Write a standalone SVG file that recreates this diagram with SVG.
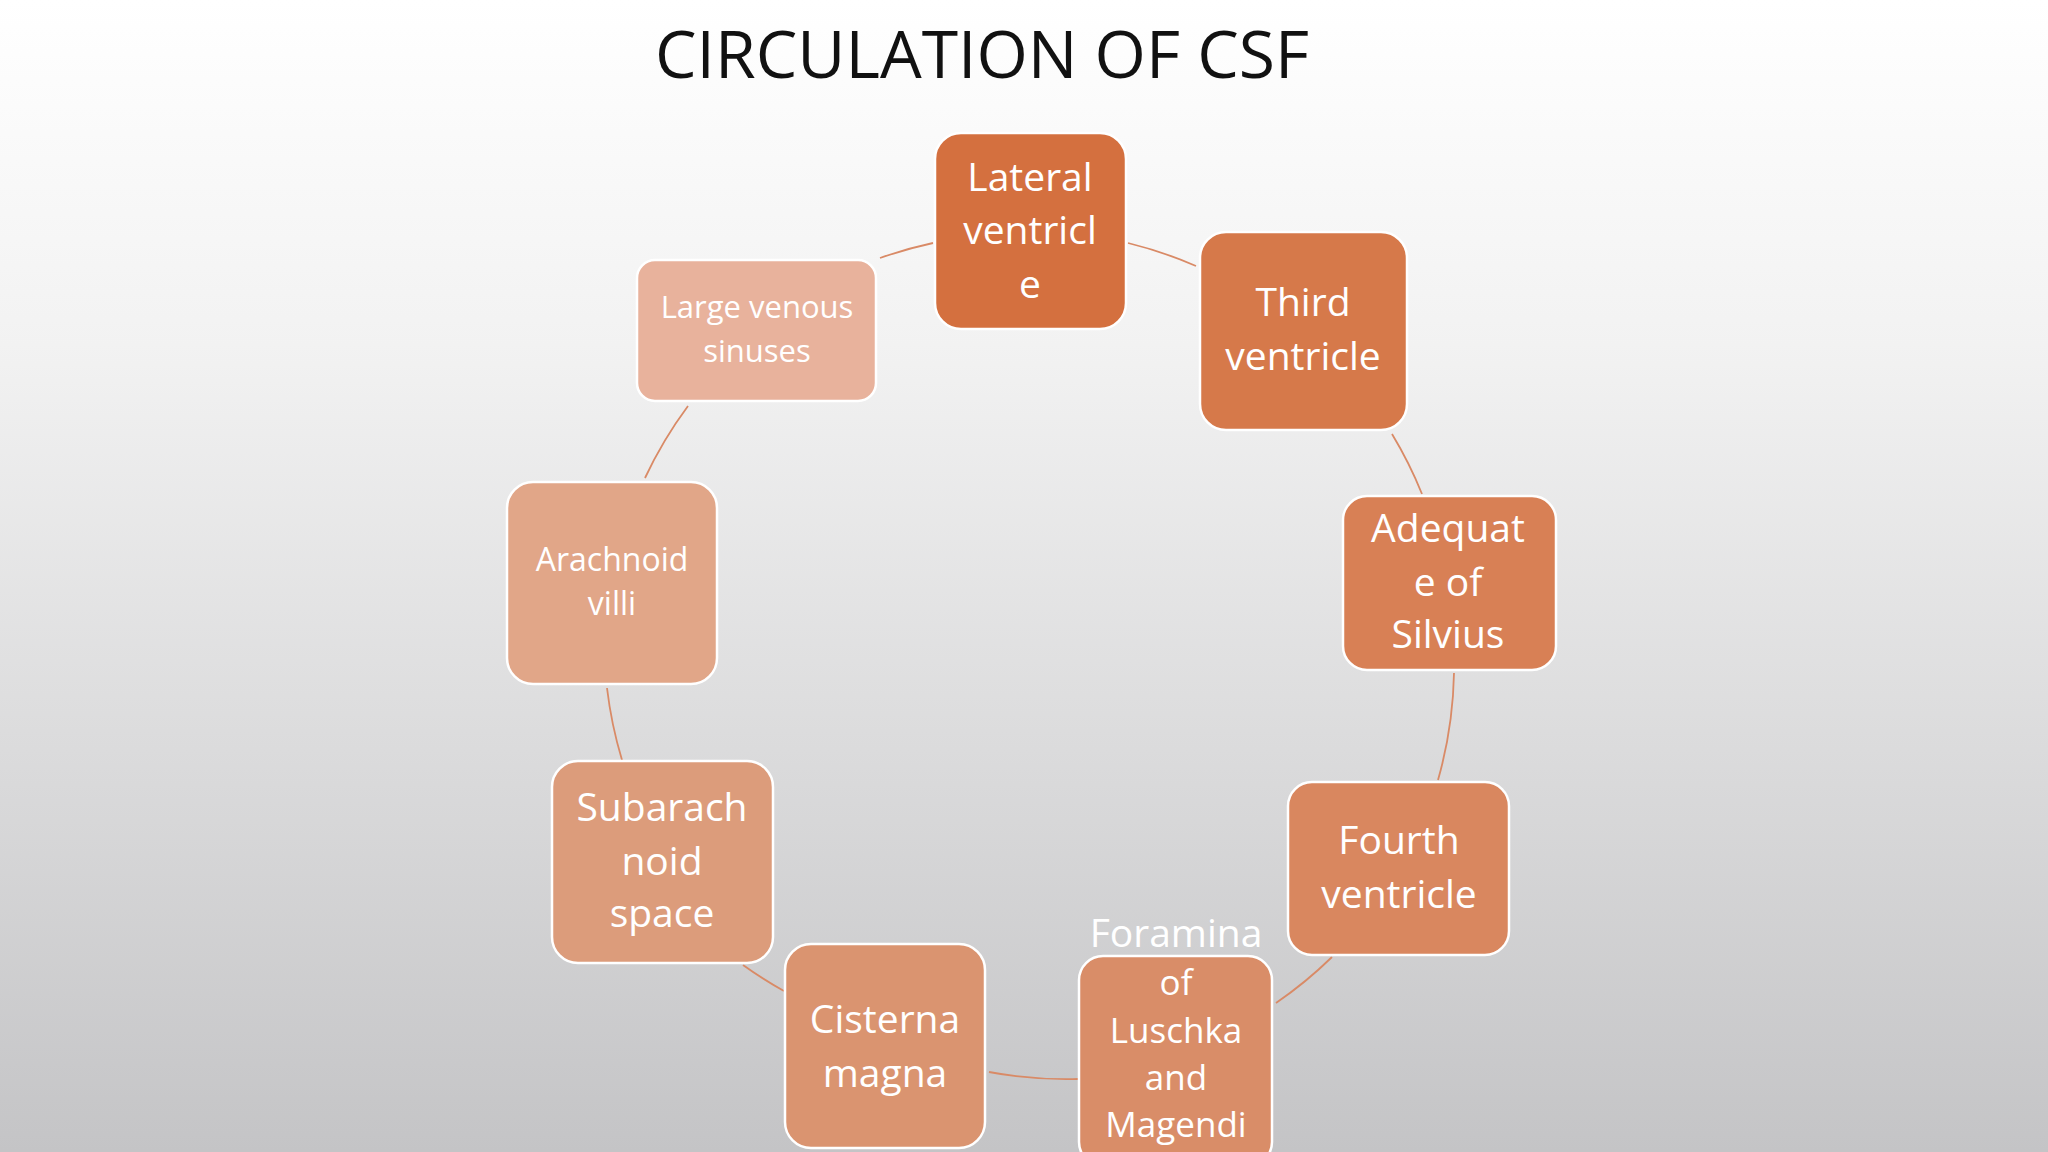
<svg xmlns="http://www.w3.org/2000/svg" width="2048" height="1152" viewBox="0 0 2048 1152">
<defs>
<linearGradient id="bg" x1="0" y1="0" x2="0" y2="1">
<stop offset="0" stop-color="#ffffff"/><stop offset="0.3" stop-color="#f2f2f2"/><stop offset="1" stop-color="#c4c4c6"/>
</linearGradient>
</defs>
<style>
.n rect{stroke:#ffffff;stroke-width:2.5}
.n text{font-family:"Open Sans","Noto Sans",sans-serif;fill:#ffffff;text-anchor:middle;font-size:39px}
.c path{fill:none;stroke:#D98A66;stroke-width:1.8}
</style>
<rect width="2048" height="1152" fill="url(#bg)"/>
<text x="982" y="78" font-family="'Open Sans','Noto Sans',sans-serif" font-size="66" text-anchor="middle" fill="#111">CIRCULATION OF CSF</text>
<g class="c">
<path d="M880,258 A418,418 0 0 1 933,243"/>
<path d="M1128,243 A418,418 0 0 1 1196,266"/>
<path d="M1392,434 A418,418 0 0 1 1422,494"/>
<path d="M1454,673 A418,418 0 0 1 1438,780"/>
<path d="M1332,957 A418,418 0 0 1 1276,1003"/>
<path d="M1079,1079 A418,418 0 0 1 989,1072"/>
<path d="M784,991 A418,418 0 0 1 743,965"/>
<path d="M622,760 A418,418 0 0 1 607,688"/>
<path d="M645,478 A418,418 0 0 1 688,406"/>
</g>
<g class="n" id="lateral"><rect x="935" y="133" width="191" height="196" rx="26" fill="#D4703F"/>
<text x="1030" y="191">Lateral</text><text x="1030" y="244">ventricl</text><text x="1030" y="298">e</text></g>
<g class="n" id="third"><rect x="1200" y="232" width="207" height="198" rx="26" fill="#D6794A"/>
<text x="1303" y="316">Third</text><text x="1303" y="370">ventricle</text></g>
<g class="n" id="adequate"><rect x="1343" y="496" width="213" height="174" rx="24" fill="#D88055"/>
<text x="1448" y="542">Adequat</text><text x="1448" y="596">e of</text><text x="1448" y="648">Silvius</text></g>
<g class="n" id="fourth"><rect x="1288" y="782" width="221" height="173" rx="24" fill="#D9875F"/>
<text x="1399" y="854">Fourth</text><text x="1399" y="908">ventricle</text></g>
<g class="n" id="foramina"><rect x="1079" y="956" width="193" height="210" rx="24" fill="#D98D68"/>
<text x="1176" y="947" font-size="35">Foramina</text><text x="1176" y="995" style="font-size:35px">of</text><text x="1176" y="1043" style="font-size:35px">Luschka</text><text x="1176" y="1090" style="font-size:35px">and</text><text x="1176" y="1137" style="font-size:35px">Magendi</text></g>
<g class="n" id="cisterna"><rect x="785" y="944" width="200" height="204" rx="26" fill="#DA9470"/>
<text x="885" y="1033">Cisterna</text><text x="885" y="1087">magna</text></g>
<g class="n" id="subarachnoid"><rect x="552" y="761" width="221" height="202" rx="26" fill="#DC9C7B"/>
<text x="662" y="821">Subarach</text><text x="662" y="875">noid</text><text x="662" y="927">space</text></g>
<g class="n" id="arachnoid"><rect x="507" y="482" width="210" height="202" rx="26" fill="#E1A688"/>
<text x="612" y="571" style="font-size:32px">Arachnoid</text><text x="612" y="615" style="font-size:32px">villi</text></g>
<g class="n" id="venous"><rect x="637" y="260" width="239" height="141" rx="18" fill="#E8B29C"/>
<text x="757" y="318" style="font-size:31px">Large venous</text><text x="757" y="362" style="font-size:31px">sinuses</text></g>
</svg>
